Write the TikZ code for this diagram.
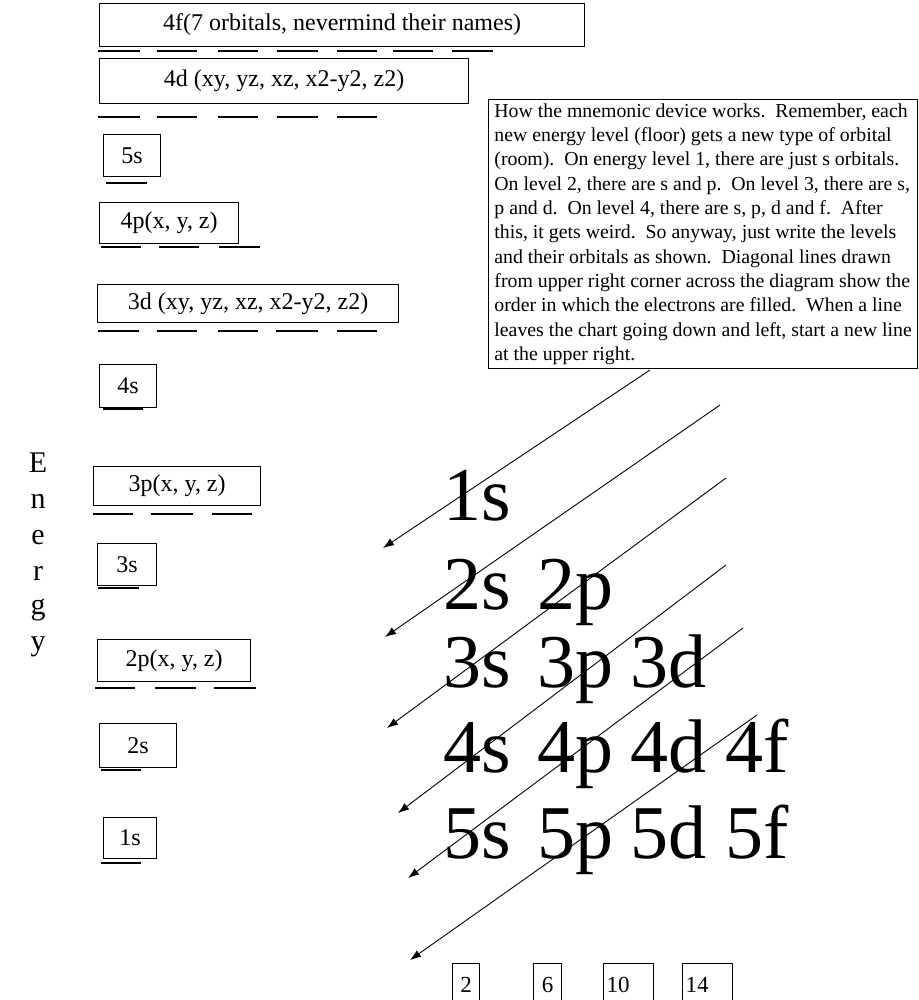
\documentclass[tikz,border=0pt]{standalone}
\usepackage{fontspec}
\setmainfont{Liberation Serif}
\usetikzlibrary{arrows.meta}
\tikzset{
  orb/.style={draw, line width=1.2pt, anchor=north west, inner sep=0pt,
    font=\fontsize{24}{28}\selectfont},
  uline/.style={line width=1.5pt},
  big/.style={anchor=base west, inner sep=0pt, font=\fontsize{76}{80}\selectfont},
  energy/.style={anchor=base, inner sep=0pt, font=\fontsize{30}{34}\selectfont},
  cnt/.style={draw, line width=1.1pt, anchor=north west, inner sep=3pt, minimum height=42,
    align=left, font=\fontsize{23}{26}\selectfont},
  arr/.style={line width=0.9pt, -{Latex[length=11pt,width=8pt]}},
  note/.style={draw, line width=1.2pt, anchor=north west, inner sep=3pt,
    minimum width=429, minimum height=269, align=left,
    font=\fontsize{19.8}{24.3}\selectfont}
}
\begin{document}
\begin{tikzpicture}[x=1pt,y=-1pt]
\useasboundingbox[fill=white] (0,0) rectangle (918,1000);

% orbital boxes
\node[orb, minimum width=485, minimum height=43] (b4f) at (99,3) {4f(7 orbitals, nevermind their names)};
\node[orb, minimum width=369, minimum height=45] (b4d) at (99,58) {4d (xy, yz, xz, x2-y2, z2)};
\node[orb, minimum width=57, minimum height=42] (b5s) at (103,134) {5s};
\node[orb, minimum width=139, minimum height=41] (b4p) at (99,202) {4p(x, y, z)};
\node[orb, minimum width=301, minimum height=38] (b3d) at (97,284) {3d (xy, yz, xz, x2-y2, z2)};
\node[orb, minimum width=57, minimum height=43] (b4s) at (99,364) {4s};
\node[orb, minimum width=167, minimum height=39] (b3p) at (93,466) {3p(x, y, z)};
\node[orb, minimum width=59, minimum height=42] (b3s) at (97,543) {3s};
\node[orb, minimum width=153, minimum height=42] (b2p) at (97,639) {2p(x, y, z)};
\node[orb, minimum width=77, minimum height=44] (b2s) at (99,723) {2s};
\node[orb, minimum width=53, minimum height=41] (b1s) at (103,817) {1s};

% orbital lines
\foreach \a/\b in {98/140,157/197,218/258,277/318,337/377,393/433,452/493}
  \draw[uline] (\a,51) -- (\b,51);
\foreach \a/\b in {98/140,157/197,218/258,277/318,337/377}
  \draw[uline] (\a,117) -- (\b,117);
\draw[uline] (106,183) -- (147,183);
\foreach \a/\b in {101/141,159/199,219/260}
  \draw[uline] (\a,247) -- (\b,247);
\foreach \a/\b in {98/139,157/197,218/258,276/318,337/377}
  \draw[uline] (\a,331) -- (\b,331);
\draw[line width=2.4pt] (103,409) -- (143,409);
\foreach \a/\b in {93/133,151/193,212/252}
  \draw[uline] (\a,514) -- (\b,514);
\draw[uline] (98,588) -- (139,588);
\foreach \a/\b in {95/135,155/196,214/256}
  \draw[uline] (\a,688) -- (\b,688);
\draw[uline] (101,770) -- (141,770);
\draw[uline] (101,863) -- (141,863);

% Energy
\node[energy] (e1) at (38,472) {E};
\node[energy] (e2) at (38,508) {n};
\node[energy] (e3) at (38,544) {e};
\node[energy] (e4) at (38,580) {r};
\node[energy] (e5) at (38,614) {g};
\node[energy] (e6) at (38,650) {y};

% explanation
\node[note] (expl) at (488,99) {How the mnemonic device works.\ \ Remember, each\\
new energy level (floor) gets a new type of orbital\\
(room).\ \ On energy level 1, there are just s orbitals.\\
On level 2, there are s and p.\ \ On level 3, there are s,\\
p and d.\ \ On level 4, there are s, p, d and f.\ \ After\\
this, it gets weird.\ \ So anyway, just write the levels\\
and their orbitals as shown.\ \ Diagonal lines drawn\\
from upper right corner across the diagram show the\\
order in which the electrons are filled.\ \ When a line\\
leaves the chart going down and left, start a new line\\
at the upper right.};

% big labels
\node[big] (l1s) at (443,520) {1s};
\node[big] (l2s) at (443,609) {2s};
\node[big] (l2p) at (537,609) {2p};
\node[big] (l3s) at (443,687) {3s};
\node[big] (l3p) at (537,687) {3p};
\node[big] (l3d) at (630,687) {3d};
\node[big] (l4s) at (443,772) {4s};
\node[big] (l4p) at (537,772) {4p};
\node[big] (l4d) at (630,772) {4d};
\node[big] (l4f) at (725,772) {4f};
\node[big] (l5s) at (443,858) {5s};
\node[big] (l5p) at (537,858) {5p};
\node[big] (l5d) at (630,858) {5d};
\node[big] (l5f) at (725,858) {5f};

% diagonal arrows
\coordinate (s1) at (650,370); \coordinate (t1) at (383,548);
\coordinate (s2) at (720,405); \coordinate (t2) at (385,637);
\coordinate (s3) at (726,478); \coordinate (t3) at (387,728);
\coordinate (s4) at (726,565); \coordinate (t4) at (398,813);
\coordinate (s5) at (743,628); \coordinate (t5) at (408,878);
\coordinate (s6) at (757,715); \coordinate (t6) at (410,960);
\foreach \i in {1,...,6} \draw[arr] (s\i) -- (t\i);

% counts
\node[cnt, minimum width=27] (c2) at (452,963) {2};
\node[cnt, minimum width=28] (c6) at (533,963) {6};
\node[cnt, minimum width=50, text width=44] (c10) at (603,963) {10};
\node[cnt, minimum width=50, text width=44] (c14) at (682,963) {14};
\end{tikzpicture}
\end{document}
